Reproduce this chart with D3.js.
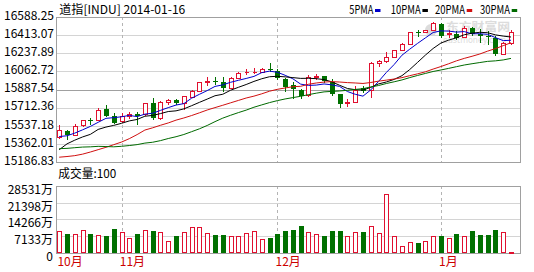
<!DOCTYPE html>
<html><head><meta charset="utf-8">
<script src="https://cdn.jsdelivr.net/npm/d3@7"></script>
<style>
html,body{margin:0;padding:0;background:#fff;}
svg{display:block;}
text{font-family:"Noto Sans CJK SC","Noto Sans",sans-serif;font-size:12px;}
</style></head><body>
<svg id="c" width="534" height="272"></svg>
<script>
const dates = ["2013-10-22","2013-10-23","2013-10-24","2013-10-25","2013-10-28","2013-10-29","2013-10-30","2013-10-31",
"2013-11-01","2013-11-04","2013-11-05","2013-11-06","2013-11-07","2013-11-08","2013-11-11","2013-11-12","2013-11-13","2013-11-14","2013-11-15","2013-11-18","2013-11-19","2013-11-20","2013-11-21","2013-11-22","2013-11-25","2013-11-26","2013-11-27","2013-11-29",
"2013-12-02","2013-12-03","2013-12-04","2013-12-05","2013-12-06","2013-12-09","2013-12-10","2013-12-11","2013-12-12","2013-12-13","2013-12-16","2013-12-17","2013-12-18","2013-12-19","2013-12-20","2013-12-23","2013-12-24","2013-12-26","2013-12-27","2013-12-30","2013-12-31",
"2014-01-02","2014-01-03","2014-01-06","2014-01-07","2014-01-08","2014-01-09","2014-01-10","2014-01-13","2014-01-14","2014-01-15"];
const open = [15394,15457,15422,15520,15572,15575,15682,15617,15560,15609,15635,15630,15752,15596,15758,15780,15745,15815,15876,15968,15976,15965,15905,16011,16066,16068,16069,16097,16080,16001,15938,15882,15835,16019,16024,15965,15838,15749,15758,15900,15880,16167,16180,16225,16302,16364,16481,16489,16509,16572,16466,16468,16433,16527,16462,16444,16420,16260,16374];
const high = [15523,15470,15526,15573,15596,15692,15724,15648,15648,15651,15655,15750,15796,15770,15793,15790,15826,15880,15967,16017,16014,16017,16015,16069,16104,16111,16111,16167,16100,16004,15965,15890,16035,16053,16030,15993,15843,15793,15924,15924,16175,16191,16277,16298,16374,16485,16509,16510,16588.25,16573,16502,16497,16544,16533,16520,16495,16440,16380,16502];
const low = [15389,15378,15413,15506,15534,15570,15610,15538,15550,15596,15526,15625,15585,15581,15741,15734,15689,15807,15874,15938,15941,15869,15900,16009,16053,16059,16066,16080,16001,15869,15799,15803,15821,16001,15965,15827,15706,15716,15755,15860,15810,16128,16178,16222,16300,16362,16447,16487,16507,16435,16433,16416,16429,16450,16378,16364,16243,16258,16364];
const close = [15467.66,15413.33,15509.21,15570.28,15568.93,15680.35,15618.76,15545.75,15615.55,15639.12,15618.22,15746.88,15593.98,15761.78,15783.10,15750.67,15821.63,15876.22,15961.70,15976.02,15967.03,15900.82,16009.99,16064.77,16072.54,16072.80,16097.33,16086.41,16008.77,15914.62,15889.77,15821.51,16020.20,16025.53,15973.13,15843.53,15739.43,15755.36,15884.57,15875.26,16167.97,16179.08,16221.14,16294.61,16357.55,16479.88,16478.41,16504.29,16576.66,16441.35,16469.99,16425.10,16530.94,16462.74,16444.76,16437.05,16257.94,16373.86,16481.94];
const volume = [10744,9301,9301,11226,9301,8660,8339,11707,10264,7376,9301,11226,10744,10264,5933,8339,10264,12669,12669,9782,8820,8820,8339,8339,9782,10744,6895,7376,9301,10744,11226,13150,10264,9301,8339,10744,10744,8339,10264,10264,13150,9782,28531,8339,3528,5453,4811,5933,8339,8339,7376,9301,8339,10744,8820,8820,11226,10264,100];
const ma5 = [15401.00,15408.90,15436.41,15470.54,15505.88,15548.42,15589.51,15596.81,15605.87,15619.91,15607.48,15633.10,15642.75,15672.00,15700.79,15727.28,15742.23,15798.68,15838.66,15877.25,15920.52,15936.36,15963.11,15983.73,16003.03,16024.18,16063.49,16078.77,16067.57,16035.99,15999.38,15944.22,15930.97,15934.33,15946.03,15936.78,15920.36,15867.40,15839.20,15819.63,15884.52,15972.45,16065.60,16147.61,16244.07,16306.45,16366.32,16422.95,16479.36,16496.12,16494.14,16483.48,16488.81,16466.02,16466.71,16460.12,16426.69,16395.27,16399.11];
const ma10 = [15264.04,15325.08,15363.39,15396.71,15423.48,15474.71,15499.20,15516.61,15538.20,15562.89,15577.95,15611.31,15619.78,15638.93,15660.35,15667.38,15687.67,15720.72,15755.33,15789.02,15823.90,15839.30,15880.90,15911.20,15940.14,15972.35,15999.92,16020.94,16025.65,16019.51,16011.78,16003.85,16004.87,16000.95,15991.01,15968.08,15932.29,15899.19,15886.77,15882.83,15910.65,15946.41,15966.50,15993.41,16031.85,16095.49,16169.38,16244.28,16313.49,16370.09,16400.30,16424.90,16455.88,16472.69,16481.41,16477.13,16455.08,16442.04,16432.57];
const ma20 = [15186.83,15193.83,15202.88,15218.48,15240.44,15264.87,15289.16,15316.62,15343.77,15378.91,15421.00,15468.19,15491.59,15517.82,15541.91,15571.05,15593.44,15618.66,15646.77,15675.96,15700.93,15725.30,15750.34,15775.06,15800.24,15819.87,15843.80,15870.83,15890.49,15904.26,15917.84,15921.57,15942.88,15956.07,15965.57,15970.22,15966.11,15960.06,15956.21,15951.17,15961.22,15975.13,15985.69,15997.18,16011.43,16031.78,16050.84,16071.73,16100.13,16126.46,16155.47,16185.65,16211.19,16233.05,16256.63,16286.31,16312.23,16343.16,16373.03];
const ma30 = [15275.50,15278.39,15285.34,15291.81,15294.29,15299.31,15297.37,15294.34,15299.82,15307.75,15317.20,15332.99,15341.85,15358.63,15380.41,15399.04,15421.99,15451.32,15480.96,15515.61,15555.30,15591.89,15621.36,15648.95,15674.65,15704.81,15728.93,15752.76,15773.06,15790.47,15804.54,15818.15,15835.18,15850.36,15863.83,15869.27,15873.29,15880.28,15889.25,15897.12,15915.44,15929.85,15950.76,15968.52,15987.67,16011.97,16033.87,16054.80,16075.30,16090.81,16107.58,16125.05,16142.42,16155.68,16168.09,16180.23,16185.59,16195.17,16210.94];
const priceTicks = [16588.25,16413.07,16237.89,16062.72,15887.54,15712.36,15537.18,15362.01,15186.83];
const volumeTicks = [28531,21398,14266,7133,0];
const monthTicks = ["2013-10-22","2013-11-01","2013-12-02","2014-01-02"];
const monthLabels = ["10月","11月","12月","1月"];
const maNames = ["5PMA","10PMA","20PMA","30PMA"];
const titleText = "道指[INDU] 2014-01-16";

const RED = "#e0102f", GREEN = "#007000";
const maColors = ["#0000cc","#000000","#d01010","#006a00"];
const maSeries = [ma5, ma10, ma20, ma30];

const svg = d3.select("#c");
const L = 57, R = 520, PT = 17, PB = 162, VT = 186, VB = 253;

const x = d3.scalePoint().domain(dates).range([59.2, 511]);
const yAxis = d3.scaleLinear().domain([priceTicks[8], priceTicks[0]]).range([PB, PT]);
const y = d3.scaleLinear().domain([priceTicks[8], priceTicks[0]]).range([157.2, 22]);
const vAxis = d3.scaleLinear().domain([0, volumeTicks[0]]).range([VB, VT]);
const v = d3.scaleLinear().domain([0, volumeTicks[0]]).range([VB, 194]);

// watermark
const wm = svg.append("g").attr("fill", "#dcdcdc");
wm.append("circle").attr("cx", 431).attr("cy", 30).attr("r", 6);
wm.append("text").attr("x", 446).attr("y", 31).attr("textLength", 64).attr("lengthAdjust", "spacingAndGlyphs")
  .style("font-size", "11px").style("font-weight", "bold").text("东方财富网");
wm.append("text").attr("x", 443).attr("y", 42.5).style("font-size", "8px").style("font-family", '"DejaVu Sans",sans-serif').text("eastmoney.com");

// price grid + labels
const pa = svg.append("g").attr("transform", `translate(${L},0)`)
  .call(d3.axisLeft(yAxis).tickValues(priceTicks).tickFormat(d => d.toFixed(2)).tickSize(-(R - L)).tickPadding(3));
pa.select(".domain").remove();
pa.selectAll(".tick line").attr("stroke", (d, i) => i === 4 ? "#a0a0a0" : "#d4d4d4").attr("shape-rendering", "crispEdges");
pa.selectAll(".tick text").attr("y", -1.5).attr("fill", "#000").style("font-size", "12px").style("font-family", '"Noto Sans CJK SC",sans-serif');

// volume grid + labels
const va = svg.append("g").attr("transform", `translate(${L},0)`)
  .call(d3.axisLeft(vAxis).tickValues(volumeTicks).tickFormat(d => d === 0 ? "0" : d + "万").tickSize(-(R - L)).tickPadding(4));
va.select(".domain").remove();
va.selectAll(".tick line").attr("stroke", "#d4d4d4").attr("shape-rendering", "crispEdges");
va.selectAll(".tick text").attr("y", 3.5).attr("fill", "#000").style("font-size", "12px").style("font-family", '"Noto Sans CJK SC",sans-serif');

// month dashed lines
const mg = svg.append("g").attr("stroke", "#b4b4b4").attr("stroke-dasharray", "3,3").attr("shape-rendering", "crispEdges");
monthTicks.slice(1).forEach(d => {
  const xx = Math.round(x(d)) + 0.5;
  mg.append("line").attr("x1", xx).attr("x2", xx).attr("y1", PT).attr("y2", PB);
  mg.append("line").attr("x1", xx).attr("x2", xx).attr("y1", VT).attr("y2", VB);
});

// frames
[[PT, PB], [VT, VB]].forEach(([t, b]) => {
  svg.append("rect").attr("x", L - 0.5).attr("y", t + 0.5).attr("width", R - L + 1).attr("height", b - t)
    .attr("fill", "none").attr("stroke", "#a0a0a0");
});

// month axis
const mAx = svg.append("g").attr("transform", `translate(0,${VB})`)
  .call(d3.axisBottom(x).tickValues(monthTicks).tickFormat((d, i) => monthLabels[i]).tickSize(0).tickPadding(4.5));
mAx.select(".domain").remove();
mAx.selectAll(".tick text").attr("text-anchor", "start").attr("x", -2.3).attr("fill", "#cc0000")
  .style("font-size", "12px").style("font-family", '"Noto Sans CJK SC",sans-serif');

const idx = d3.range(dates.length);
const cx = i => Math.round(x(dates[i]));
const isUp = i => close[i] >= open[i];

// volume bars
const vb = svg.append("g").attr("shape-rendering", "crispEdges");
vb.selectAll("path.vu").data(idx.filter(isUp)).join("path").attr("class", "vu")
  .attr("d", i => { const c = cx(i), t = Math.round(v(volume[i])); return `M${c - 1.5},${t + 0.5}H${c + 2.5}V${VB - 0.5}H${c - 1.5}Z`; })
  .attr("fill", "#fff").attr("stroke", RED);
vb.selectAll("rect.vd").data(idx.filter(i => !isUp(i))).join("rect").attr("class", "vd")
  .attr("x", i => cx(i) - 2).attr("y", i => Math.round(v(volume[i]))).attr("width", 5)
  .attr("height", i => VB - Math.round(v(volume[i]))).attr("fill", GREEN);

// candles
const cg = svg.append("g").attr("shape-rendering", "crispEdges");
cg.selectAll("line").data(idx).join("line")
  .attr("x1", i => cx(i) + 0.5).attr("x2", i => cx(i) + 0.5)
  .attr("y1", i => Math.round(y(high[i]))).attr("y2", i => Math.round(y(low[i])) + 1)
  .attr("stroke", i => isUp(i) ? RED : GREEN);
cg.selectAll("path").data(idx.filter(isUp)).join("path")
  .attr("d", i => { const c = cx(i), t = Math.round(y(close[i])), b = Math.round(y(open[i])); return `M${c - 1.5},${t + 0.5}H${c + 2.5}V${b + 0.5}H${c - 1.5}Z`; })
  .attr("fill", "#fff").attr("stroke", RED);
cg.selectAll("rect").data(idx.filter(i => !isUp(i))).join("rect")
  .attr("x", i => cx(i) - 2).attr("y", i => Math.round(y(open[i])))
  .attr("width", 5).attr("height", i => Math.max(1, Math.round(y(close[i])) - Math.round(y(open[i]))))
  .attr("fill", GREEN);

// moving averages
const line = arr => d3.line().x(i => x(dates[i])).y(i => y(arr[i]))(idx);
svg.append("g").selectAll("path").data(maSeries).join("path")
  .attr("d", s => line(s)).attr("fill", "none").attr("stroke", (s, k) => maColors[k]).attr("stroke-width", 1);

// title
svg.append("text").attr("x", 59.3).attr("y", 13.5).attr("textLength", 126).attr("lengthAdjust", "spacingAndGlyphs").text(titleText);

// legend
const legendX = [349.3, 390.7, 435, 480];
maNames.forEach((n, k) => {
  const w = n.length * 6;
  svg.append("text").attr("x", legendX[k]).attr("y", 13.5).attr("textLength", w).attr("lengthAdjust", "spacingAndGlyphs").text(n);
  svg.append("rect").attr("x", legendX[k] + w + 1.7).attr("y", 9).attr("width", 5.5).attr("height", 3).attr("fill", maColors[k]);
});

// volume caption
svg.append("text").attr("x", 58.3).attr("y", 177.5).attr("textLength", 58).attr("lengthAdjust", "spacingAndGlyphs")
  .text("成交量:" + volume[volume.length - 1]);
</script>
</body></html>
